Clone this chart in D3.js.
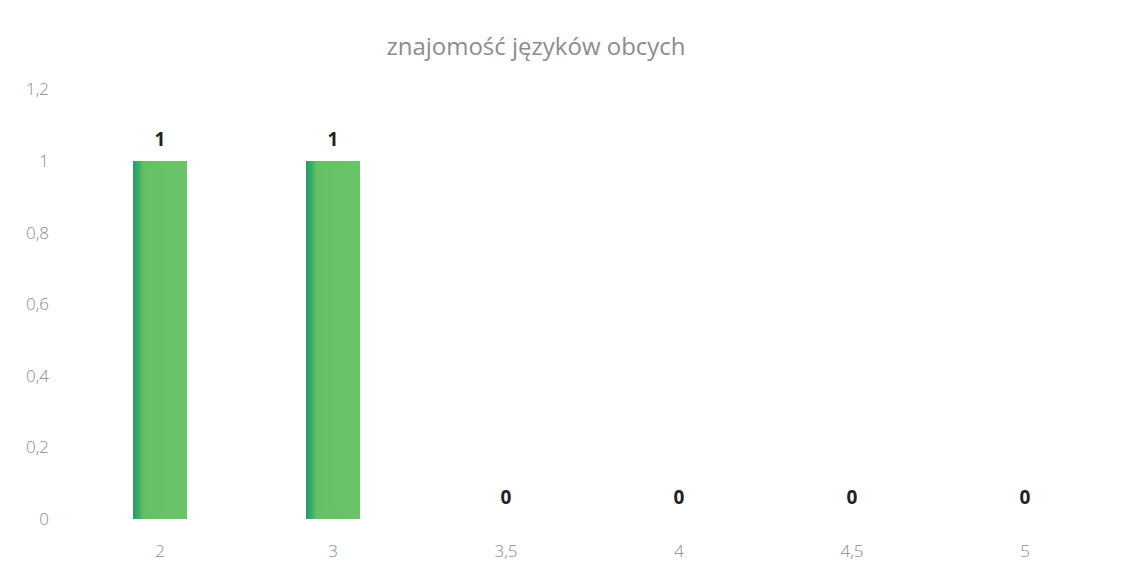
<!DOCTYPE html>
<html>
<head>
<meta charset="utf-8">
<script src="https://cdn.jsdelivr.net/npm/d3@7"></script>
<style>
	body { margin: 0; background: #fff; }
	svg text { font-family: "Open Sans", "Noto Sans", sans-serif; }
</style>
</head>
<body>
<div id="chart"></div>
<script>
// chart data
var categories = ["2", "3", "3,5", "4", "4,5", "5"];
var values = [1, 1, 0, 0, 0, 0];
var yTicks = [0, 0.2, 0.4, 0.6, 0.8, 1, 1.2];
var title = "znajomość języków obcych";

var width = 1129, height = 577;
var margin = {left: 73.5, right: 17.5, top: 89.4, bottom: 58};

var svg = d3.select("#chart").append("svg")
	.attr("width", width)
	.attr("height", height);

var defs = svg.append("defs");
var grad = defs.append("linearGradient").attr("id", "barGrad")
	.attr("x1", "0%").attr("x2", "100%").attr("y1", "0%").attr("y2", "0%");
grad.append("stop").attr("offset", "0%").attr("stop-color", "#1f9f6a");
grad.append("stop").attr("offset", "10%").attr("stop-color", "#3aad62");
grad.append("stop").attr("offset", "20%").attr("stop-color", "#64c066");
grad.append("stop").attr("offset", "100%").attr("stop-color", "#6cc46a");

// step 173 px; outer padding = inner/2 keeps band centres on step midpoints
var x = d3.scaleBand().domain(categories)
	.range([margin.left, width - margin.right])
	.paddingInner(0.688)
	.paddingOuter(0.344);
var y = d3.scaleLinear().domain([0, 1.2])
	.range([height - margin.bottom, margin.top]);

// title
svg.append("text")
	.attr("x", 536)
	.attr("y", 55)
	.attr("text-anchor", "middle")
	.attr("fill", "#8c8c8c")
	.attr("font-size", 24)
	.text(title);

// y axis (labels only)
var yAxis = d3.axisLeft(y).tickValues(yTicks).tickSize(0)
	.tickFormat(d => d3.format("~g")(d).replace(".", ","));
svg.append("g").attr("class", "yAxis")
	.attr("transform", `translate(52, 0)`)
	.call(yAxis)
	.call(g => g.select(".domain").remove())
	.selectAll("text")
	.attr("fill", "#8a8a8a")
	.attr("font-size", 17)
	.attr("font-family", "'Open Sans', sans-serif")
	.attr("font-weight", 300);

// x axis (labels only)
var xAxis = d3.axisBottom(x).tickSize(0).tickPadding(0);
svg.append("g").attr("class", "xAxis")
	.attr("transform", `translate(0, ${height - margin.bottom + 26})`)
	.call(xAxis)
	.call(g => g.select(".domain").remove())
	.selectAll("text")
	.attr("fill", "#8a8a8a")
	.attr("font-size", 17)
	.attr("font-family", "'Open Sans', sans-serif")
	.attr("font-weight", 300);

// bars
svg.append("g").attr("class", "bars")
	.selectAll("rect")
	.data(values)
	.join("rect")
	.attr("x", (d, i) => x(categories[i]))
	.attr("y", d => y(d))
	.attr("width", x.bandwidth())
	.attr("height", d => y(0) - y(d))
	.attr("fill", "url(#barGrad)");

// value labels
svg.append("g").attr("class", "labels")
	.selectAll("text")
	.data(values)
	.join("text")
	.attr("x", (d, i) => x(categories[i]) + x.bandwidth() / 2)
	.attr("y", d => y(d) - 15)
	.attr("text-anchor", "middle")
	.attr("font-size", 19)
	.attr("font-weight", "bold")
	.attr("fill", "#222")
	.text(d => d);
</script>
</body>
</html>
